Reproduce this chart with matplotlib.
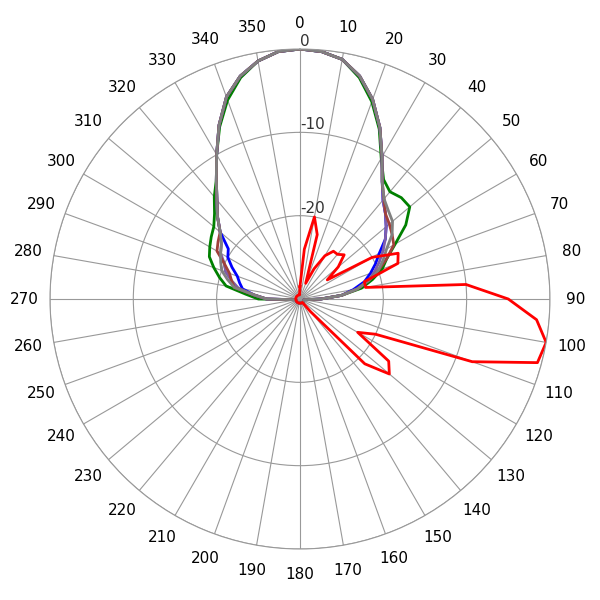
import numpy as np
import matplotlib.pyplot as plt

# angles: 0..90 and 270..355 in 5 degree steps, rear every 10 degrees
front = list(range(0, 95, 5))
rear = list(range(100, 270, 10))
back = list(range(270, 360, 5))
angles = front + rear + back
rear_db = [-29.5] * len(rear)

green = ([0, -0.2, -0.8, -2.5, -4.8, -7.5, -10.5, -12.5, -13.2, -12.8, -12.8, -14.5, -16.8,
          -18.5, -19.5, -21, -22.5, -25, -27.5] + rear_db +
         [-25, -23.5, -21, -20, -19, -18, -17.5, -17, -16.5, -15.5, -14, -12.5, -10, -7.2,
          -4.6, -2.5, -1, -0.2])
gray = ([0, -0.2, -0.8, -2.3, -4.5, -7.3, -10.3, -12.8, -14.3, -15, -15.5, -16.5, -18,
         -19, -20, -21.5, -23, -25, -27.5] + rear_db +
        [-26, -24.5, -22, -21, -20, -19.5, -19, -18.5, -17.5, -16, -14.5, -12.5, -10, -7,
         -4.2, -2.3, -1, -0.2])
blue = ([0, -0.2, -0.8, -2.3, -4.5, -7.3, -10.3, -12.8, -14.5, -15.5, -16.5, -17.5, -19,
         -20, -21, -22, -23.5, -25, -27.5] + rear_db +
        [-26, -24.5, -23, -22.5, -22, -21, -20, -19.5, -17.5, -16, -14.5, -12.5, -10, -7,
         -4.2, -2.3, -1, -0.2])
purple = ([0, -0.2, -0.8, -2.3, -4.5, -7.3, -10.3, -12.8, -14.5, -15.5, -16.5, -17.5, -18.5,
           -19.5, -20.5, -21.5, -23, -25, -27.5] + rear_db +
          [-26, -24.5, -22.5, -21.5, -20.5, -20, -19, -18.5, -17.5, -16, -14.5, -12.5, -10, -7,
           -4.2, -2.3, -1, -0.2])
brown = ([0, -0.2, -0.8, -2.3, -4.5, -7.3, -10.3, -12.8, -14.3, -15.5, -16, -16.5, -17,
          -18.5, -20, -21.5, -23, -25, -27.5] + rear_db +
         [-26, -24.5, -22, -21.5, -21, -20, -18.5, -18, -17.5, -16, -14.5, -12.5, -10, -7,
          -4.2, -2.3, -1, -0.2])

red_ang = list(range(0, 360, 5))
red = [-28.5, -24, -20, -22, -28, -26, -24, -23, -23, -22.5, -24, -26,
       -20, -17, -17.5, -22, -22, -10, -5, -1.5, 0, -0.5, -8, -20,
       -22, -17, -16, -19, -28] + [-29.5] * 43

series = [(green, angles, '#008000'), (blue, angles, '#0000ff'), (purple, angles, '#7f5fa8'),
          (brown, angles, '#a0403a'), (gray, angles, '#808080'), (red, red_ang, '#ff0000')]

fig = plt.figure(figsize=(6, 6), dpi=100)
ax = fig.add_axes([0.0833, 0.085, 0.8333, 0.8333], projection='polar')
ax.set_theta_zero_location('N')
ax.set_theta_direction(-1)
for vals, angs, col in series:
    th = np.deg2rad(angs + [angs[0]])
    r = np.array(vals + [vals[0]]) + 30
    ax.plot(th, r, color=col, lw=2, solid_joinstyle='round')

ax.set_ylim(0, 30)
ax.set_yticks([10, 20, 30])
ax.set_yticklabels(['-20', '-10', '0'], fontsize=11, color='#333333')
ax.set_rlabel_position(0)
ax.set_xticks(np.deg2rad(np.arange(0, 360, 10)))
ax.set_xticklabels([str(a) for a in range(0, 360, 10)], fontsize=11)
ax.tick_params(axis='x', pad=8)
ax.grid(color='#999999', lw=0.8)
ax.spines['polar'].set_color('#999999')
fig.savefig('out.png')
